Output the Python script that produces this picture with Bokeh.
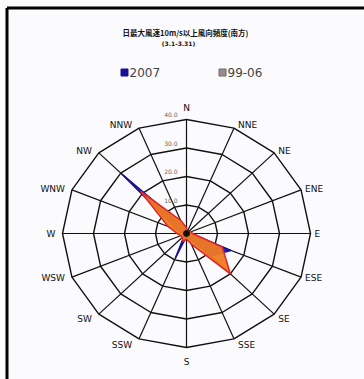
import numpy as np
from bokeh.plotting import figure
from bokeh.models import ColumnDataSource
from bokeh.core.properties import value
from bokeh.embed import file_html
from bokeh.resources import INLINE

# ---- data ----
directions = ["N", "NNE", "NE", "ENE", "E", "ESE", "SE", "SSE",
              "S", "SSW", "SW", "WSW", "W", "WNW", "NW", "NNW"]
series_2007 = [1, 0.5, 0.5, 1, 1.5, 15.5, 11, 1.5, 1, 9.5, 1, 1, 1.5, 3, 30, 3]
series_9906 = [2, 1, 1, 1.5, 2, 12.5, 20, 4, 2, 3, 2, 2, 3, 6.5, 21, 5]
ring_values = [10, 20, 30, 40]
ring_labels = ["10.0", "20.0", "30.0", "40.0"]
title_line1 = "日最大風速10m/s以上風向頻度(南方)"
title_line2 = "(3.1-3.31)"
legend_names = ["2007", "99-06"]

W, H = 364, 379
CX, CY = 186, 233          # centre in pixels
RX, RY = 124, 114          # outer ring radii in pixels
RMAX = ring_values[-1]
sx = RX / RMAX
sy = RY / RMAX

x0 = -CX / sx
x1 = (W - CX) / sx
y1 = CY / sy
y0 = -(H - CY) / sy

def px(x):
    return (x - CX) / sx

def py(y):
    return (CY - y) / sy

p = figure(width=W, height=H, x_range=(x0, x1), y_range=(y0, y1),
           output_backend="svg", toolbar_location=None,
           min_border=0, min_border_left=0, min_border_right=0,
           min_border_top=0, min_border_bottom=0)
p.axis.visible = False
p.grid.visible = False
p.outline_line_color = None
p.background_fill_color = "#fbfbfd"
p.border_fill_color = "#fbfbfd"

n = len(directions)
theta = np.arange(n) * 2 * np.pi / n
st, ct = np.sin(theta), np.cos(theta)

# rings (polygonal)
for rv in ring_values:
    xs = list(rv * st) + [rv * st[0]]
    ys = list(rv * ct) + [rv * ct[0]]
    p.line(xs, ys, line_color="#111111", line_width=1.4)

# spokes
p.segment(x0=[0] * n, y0=[0] * n, x1=list(RMAX * st), y1=list(RMAX * ct),
          line_color="#111111", line_width=1.2)

def poly(vals):
    v = np.array(vals, dtype=float)
    return list(v * st), list(v * ct)

bx, by = poly(series_2007)
p.patch(bx, by, fill_color="#2a1fb0", line_color="#1a1090", line_width=1.5, fill_alpha=1)
ox, oy = poly(series_9906)
p.patch(ox, oy, fill_color="#f07a22", line_color="#e0242a", line_width=1.5, fill_alpha=0.95)

# centre dot
p.scatter([0], [0], size=6, color="#111111")

# ring labels
p.text(x=[px(CX - 9)] * len(ring_values), y=[rv + 0.8 for rv in ring_values],
       text=ring_labels, text_font=value("DejaVu Sans"), text_font_size="6px",
       text_color="#666666", text_align="right", text_baseline="bottom")

# direction labels
lx, ly, la, lb, lxo, lyo = [], [], [], [], [], []
for i, d in enumerate(directions):
    s, c = st[i], ct[i]
    lx.append(RMAX * s)
    ly.append(RMAX * c)
    if abs(s) < 1e-6:
        la.append("center")
        lxo.append(0)
        if c > 0:
            lb.append("bottom"); lyo.append(-7)
        else:
            lb.append("top"); lyo.append(9)
    else:
        la.append("left" if s > 0 else "right")
        lxo.append(4 if s > 0 else -7)
        lb.append("middle")
        lyo.append(-3 * c + (3 if c < -0.5 else 0))
src = ColumnDataSource(dict(x=lx, y=ly, t=directions, a=la, b=lb, xo=lxo, yo=lyo))
p.text(x="x", y="y", text="t", text_align="a", text_baseline="b",
       x_offset="xo", y_offset="yo", source=src,
       text_font=value("DejaVu Sans"), text_font_size="9px", text_color="#111111")

# title
p.text(x=[px(185)], y=[py(32)], text=[title_line1], text_align="center",
       text_baseline="middle", text_font=value("Noto Sans CJK JP"),
       text_font_size="7.5px", text_font_style="bold", text_color="#111111")
p.text(x=[px(178)], y=[py(43)], text=[title_line2], text_align="center",
       text_baseline="middle", text_font=value("DejaVu Sans"),
       text_font_size="6px", text_font_style="bold", text_color="#111111")

# legend
p.scatter([px(124)], [py(72)], marker="square", size=7, color="#1a1098")
p.scatter([px(222)], [py(72)], marker="square", size=7, fill_color="#9a8c8c",
          line_color="#6a6a6a")
p.text(x=[px(129), px(227)], y=[py(72), py(72)], text=legend_names,
       text_align="left", text_baseline="middle", text_font=value("DejaVu Sans"),
       text_font_size="12px", text_color="#444444")

# border (top and left)
p.segment(x0=[px(6.5), px(6.5)], y0=[py(7.5), py(7.5)],
          x1=[px(6.5), px(W + 5)], y1=[py(H + 5), py(7.5)],
          line_color="black", line_width=3)

open("out.html", "w").write(file_html(p, INLINE))
